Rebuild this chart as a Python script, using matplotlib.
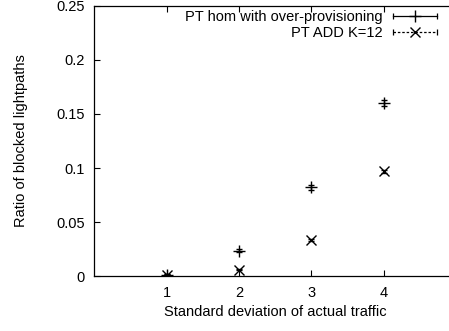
import matplotlib
matplotlib.use("Agg")
import matplotlib.pyplot as plt
from matplotlib.lines import Line2D
from matplotlib.legend_handler import HandlerLine2D, HandlerTuple

plt.rcParams['font.family'] = ['Liberation Sans', 'DejaVu Sans']

std_dev = [1, 2, 3, 4]
hom_over = [0.001, 0.0235, 0.082, 0.1605]
hom_over_err = [0.0006, 0.0012, 0.0022, 0.0028]
add_k12 = [0.001, 0.006, 0.033, 0.097]
add_k12_err = [0.0005, 0.0008, 0.001, 0.0015]
labels = ['PT hom with over-provisioning', 'PT ADD K=12']

fs = 10.5

fig = plt.figure(figsize=(4.49, 3.31), dpi=100)
ax = fig.add_axes([0.21, 0.166, 0.806, 0.816])

ax.errorbar(std_dev, hom_over, yerr=hom_over_err, fmt='+', color='black',
            markersize=9, mew=1.0, elinewidth=1.0, capsize=2, capthick=1.0)
ax.errorbar(std_dev, add_k12, yerr=add_k12_err, fmt='x', color='black',
            markersize=7, mew=1.0, elinewidth=1.0, capsize=2, capthick=1.0)

ax.set_xlim(0, 5)
ax.set_ylim(0, 0.25)
ax.set_xticks(std_dev)
ax.set_yticks([0, 0.05, 0.1, 0.15, 0.2, 0.25])
ax.set_yticklabels(['0', '0.05', '0.1', '0.15', '0.2', '0.25'])
ax.spines['right'].set_visible(False)
for s in ['left', 'bottom', 'top']:
    ax.spines[s].set_linewidth(0.9)
ax.tick_params(direction='in', length=4, width=0.8, labelsize=fs, top=True,
               pad=7)
ax.set_xlabel('Standard deviation of actual traffic', fontsize=fs, labelpad=4)
ax.set_ylabel('Ratio of blocked lightpaths', fontsize=fs, labelpad=20)

# legend handles in gnuplot style: line with end caps and marker in middle
caps1 = Line2D([], [], color='black', lw=0.9, marker='|', markersize=4, mew=0.9)
mark1 = Line2D([], [], color='black', lw=0, marker='+', markersize=9, mew=1.0)
caps2 = Line2D([], [], color='black', lw=0.9, ls=(0, (2, 1.5)), marker='|',
               markersize=4, mew=0.9)
mark2 = Line2D([], [], color='black', lw=0, marker='x', markersize=7, mew=1.0)
hmap = {caps1: HandlerLine2D(numpoints=2, marker_pad=0),
        caps2: HandlerLine2D(numpoints=2, marker_pad=0),
        mark1: HandlerLine2D(numpoints=1),
        mark2: HandlerLine2D(numpoints=1),
        tuple: HandlerTuple(ndivide=1, pad=0)}
leg = ax.legend([(caps1, mark1), (caps2, mark2)], labels, handler_map=hmap,
                loc='upper right', bbox_to_anchor=(437 / 449, 1 - 10 / 331),
                bbox_transform=fig.transFigure,
                frameon=False, markerfirst=False, fontsize=fs, handlelength=3.0,
                handletextpad=0.7, labelspacing=0.15, borderaxespad=0,
                borderpad=0)

fig.savefig('out.png', dpi=100)
